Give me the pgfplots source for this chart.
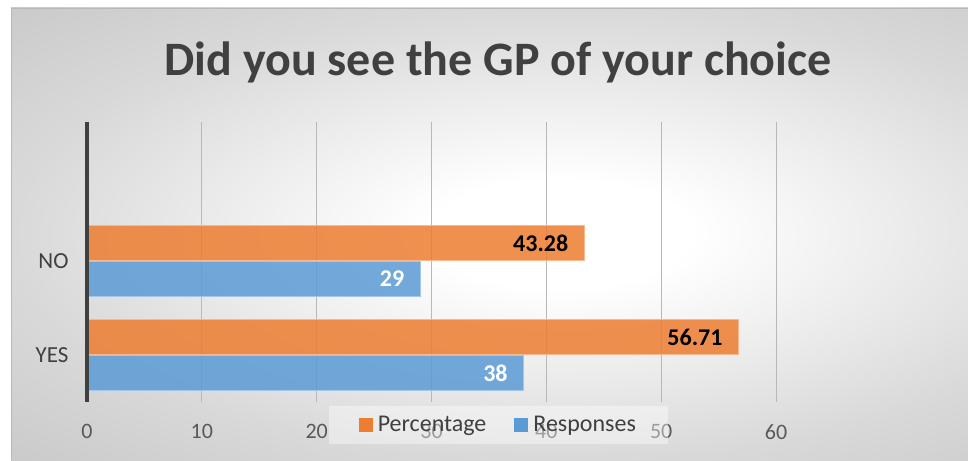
\documentclass[border=0pt]{standalone}
\usepackage{fontspec}
\setmainfont{Carlito}
\usepackage{pgfplots}
\usepackage{pgfplotstable}
\pgfplotsset{compat=1.18}
\definecolor{barorange}{HTML}{ED7D31}
\definecolor{barblue}{HTML}{5B9BD5}
\definecolor{txt}{HTML}{404040}
\definecolor{ticktxt}{HTML}{595959}
\pgfdeclareradialshading{bg}{\pgfpoint{0bp}{0bp}}{color(0bp)=(white); color(6bp)=(white); color(25bp)=(black!15); color(36bp)=(black!21); color(50bp)=(black!22)}
\pgfplotstableread{
y pct resp
0 56.71 38
1 43.28 29
}\datatable
\begin{document}
\begin{tikzpicture}
\useasboundingbox (0pt,0pt) rectangle (968pt,-460pt);
\fill[white] (0pt,0pt) rectangle (968pt,-460pt);
\begin{scope}
\clip (11pt,-8pt) rectangle (968pt,-460pt);
\shade[shading=bg] (11pt,-8pt) rectangle (1109pt,-460pt);
\end{scope}
\draw[black!28, line width=0.8pt] (11pt,-460pt) -- (11pt,-8pt) -- (968pt,-8pt);
\node[font=\fontsize{48}{56}\selectfont\bfseries, text=txt] at (498pt,-62pt) {Did you see the GP of your choice};
\begin{axis}[
  at={(87pt,-402pt)}, anchor=south west,
  scale only axis, width=689pt, height=280pt,
  xmin=0, xmax=60, ymin=-0.5, ymax=2.48,
  enlargelimits=false,
  /pgf/number format/assume math mode=true,
  xtick={0,10,...,60}, ytick={0,1}, yticklabels={YES,NO},
  major tick length=0pt,
  axis x line*=bottom, axis y line*=left,
  x axis line style={draw=none},
  y axis line style={draw=none},
  xmajorgrids, grid style={draw=black!28, line width=0.8pt},
  xticklabel style={font=\fontsize{22}{26}\selectfont, text=ticktxt, yshift=-19pt},
  yticklabel style={font=\fontsize{23}{27}\selectfont, text=txt, xshift=-15pt},
  legend style={at={(0.597,-0.082)}, anchor=center, fill=white, fill opacity=0.4, text opacity=1, draw=none,
    font=\fontsize{24}{28}\selectfont, text=txt, legend columns=2, inner xsep=30pt, inner ysep=9pt,
    /tikz/every even column/.append style={column sep=26pt}},
  legend image code/.code={\fill[#1, draw=none, fill opacity=1] (0pt,-7pt) rectangle (14pt,7pt);},
  nodes near coords={\pgfmathprintnumber[fixed, precision=2]{\pgfplotspointmeta}},
  point meta=x,
  clip=false,
]
\addplot[xbar, bar width=0.37, bar shift=0.19, fill=barorange, fill opacity=0.85,
  draw={rgb,255:red,246;green,183;blue,145}, line width=0.8pt,
  nodes near coords style={anchor=east, xshift=-12pt, yshift=17.9pt, text opacity=1, text=black, font=\fontsize{24}{28}\selectfont\bfseries}]
  table[x=pct, y=y] {\datatable};
\addplot[xbar, bar width=0.37, bar shift=-0.19, fill=barblue, fill opacity=0.85,
  draw={rgb,255:red,165;green,198;blue,232}, line width=0.8pt,
  nodes near coords style={anchor=east, xshift=-12pt, yshift=-17.9pt, text opacity=1, text=white, font=\fontsize{24}{28}\selectfont\bfseries}]
  table[x=resp, y=y] {\datatable};
\draw[draw=txt, line width=3.4pt] (axis cs:0,-0.5) -- (axis cs:0,2.48);
\legend{\hspace{3pt}Percentage,\hspace{3pt}Responses}
\end{axis}
\end{tikzpicture}
\end{document}
